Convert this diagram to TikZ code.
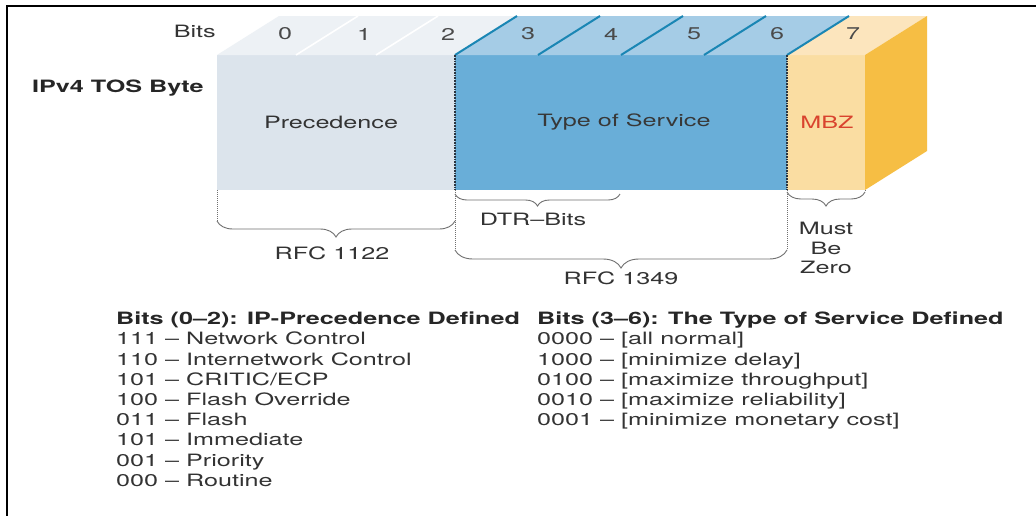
\documentclass[tikz,border=0pt]{standalone}
\usepackage{fontspec}
\setmainfont{TeX Gyre Heros}[FakeStretch=1.48]
\usetikzlibrary{decorations.pathreplacing}

\definecolor{precFront}{HTML}{DCE4EC}
\definecolor{precTop}{HTML}{EDF1F5}
\definecolor{tosFront}{HTML}{69AED8}
\definecolor{tosTop}{HTML}{A5CCE6}
\definecolor{tosLine}{HTML}{1A86B4}
\definecolor{mbzFront}{HTML}{FADDA2}
\definecolor{mbzTop}{HTML}{FCE5BD}
\definecolor{mbzSide}{HTML}{F6BE44}
\definecolor{mbzText}{HTML}{D9432E}
\definecolor{txt}{HTML}{333333}
\definecolor{digit}{HTML}{4A4A4A}
\definecolor{braceCol}{HTML}{707070}
\definecolor{sepDots}{HTML}{2B3540}

\begin{document}
\begin{tikzpicture}[x=1pt,y=-1pt,
  lbl/.style={inner sep=0pt, text=txt, font=\fontsize{17}{20}\selectfont},
  head/.style={lbl, text=black!85, font=\fontsize{17}{20}\selectfont\bfseries},
  bitnum/.style={lbl, text=digit},
  guide/.style={draw=braceCol, densely dotted, line width=1pt},
  facesep/.style={draw=sepDots, densely dotted, line width=1.8pt},
  curly/.style={draw=braceCol, line width=0.9pt, decorate,
                decoration={brace, mirror, amplitude=#1}},
  topline/.style={draw=tosLine, line width=2pt},
  precline/.style={draw=white, line width=1.6pt}]

\useasboundingbox (0,0) rectangle (1036,515);
\fill[white] (0,0) rectangle (1036,515);

% frame along the top and left edges
\draw[line width=2.4pt, line join=miter] (7,520) -- (7,6) -- (1040,6);

% ---- the byte drawn as a box: front faces ----
\fill[precFront] (217,55) rectangle (455,190);
\fill[tosFront]  (455,55) rectangle (787,190);
\fill[mbzFront]  (787,55) rectangle (865,190);

% top faces
\fill[precTop] (217,55) -- (279,16) -- (517,16) -- (455,55) -- cycle;
\fill[tosTop]  (455,55) -- (517,16) -- (849,16) -- (787,55) -- cycle;
\fill[mbzTop]  (787,55) -- (849,16) -- (927,16) -- (865,55) -- cycle;

% side face
\fill[mbzSide] (865,55) -- (927,16) -- (927,151) -- (865,190) -- cycle;

% bit dividers on the top face
\foreach \x in {296,376} \draw[precline] (\x,55) -- ++(62,-39);
\foreach \x in {455,538,621,704,787} \draw[topline] (\x,55) -- ++(62,-39);

% field separators on the front face
\draw[facesep] (455,55) -- (455,190);
\draw[facesep] (787,55) -- (787,190);

% ---- bit numbers ----
\node[lbl, anchor=mid east] (bitsL) at (216,35) {Bits};
\foreach \n/\x in {0/285,1/364,2/448,3/528,4/611,5/694,6/777,7/853}
  \node[bitnum] (d\n) at (\x,34) {\n};

\node[head, anchor=mid west] (tosbyte) at (32,90) {IPv4 TOS Byte};

% field names
\node[lbl] (prec) at (331,122) {Precedence};
\node[lbl, text=black!78] (tos) at (624,122) {Type of Service};
\node[lbl, text=mbzText] (mbz) at (827,122) {MBZ};

% ---- bracket anchors ----
\coordinate (f0) at (217,190);
\coordinate (f3) at (455,190);
\coordinate (f7) at (787,190);
\coordinate (f8) at (865,190);
\coordinate (a0) at (217,221);
\coordinate (a3) at (455,221);
\coordinate (dtrL) at (455,194);
\coordinate (dtrR) at (620,194);
\coordinate (c3) at (455,250);
\coordinate (c7) at (787,250);
\coordinate (m7) at (787,192);
\coordinate (m8) at (865,192);

\draw[guide] (f0) -- (a0);
\draw[guide] (f3) -- (c3);
\draw[guide] (f7) -- (c7);
\draw[guide] (f8) -- (m8);

\draw[curly=16pt] (a0) -- (a3);
\draw[curly=12pt] (dtrL) -- (dtrR);
\draw[curly=18pt] (c3) -- (c7);
\draw[curly=14pt] (m7) -- (m8);

\node[lbl] (dtr) at (533,219) {DTR–Bits};
\node[lbl] (rfc1122) at (332,253) {RFC 1122};
\node[lbl] (rfc1349) at (621,278) {RFC 1349};
\node[lbl, align=center, font=\fontsize{17}{19.5}\selectfont] (mbz0) at (826,248) {Must\\Be\\Zero};

% ---- value tables ----
\node[head, anchor=mid west] (precH) at (116,322) {Bits (0–2): IP-Precedence Defined};
\foreach \i/\t in {1/{111 – Network Control},2/{110 – Internetwork Control},
                   3/{101 – CRITIC/ECP},4/{100 – Flash Override},5/{011 – Flash},
                   6/{101 – Immediate},7/{001 – Priority},8/{000 – Routine}}
  \node[lbl, anchor=mid west] (prec\i) at (116,322+20.2*\i) {\t};

\node[head, anchor=mid west] (tosH) at (537,322) {Bits (3–6): The Type of Service Defined};
\foreach \i/\t in {1/{0000 – [all normal]},2/{1000 – [minimize delay]},
                   3/{0100 – [maximize throughput]},4/{0010 – [maximize reliability]},
                   5/{0001 – [minimize monetary cost]}}
  \node[lbl, anchor=mid west] (tos\i) at (537,322+20.2*\i) {\t};

\end{tikzpicture}
\end{document}
